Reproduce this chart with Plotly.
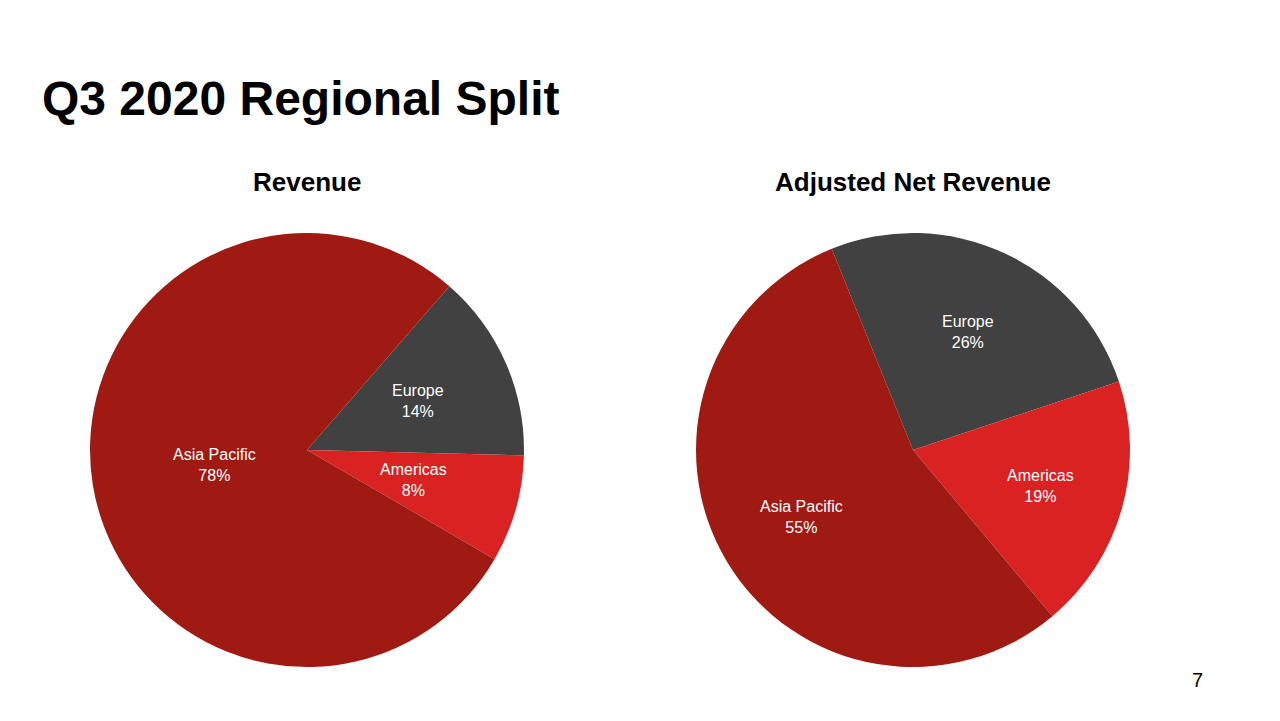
import math
import plotly.graph_objects as go

# Data
regions = ["Europe", "Americas", "Asia Pacific"]
revenue_pct = [14, 8, 78]
adj_net_revenue_pct = [26, 19, 55]
chart_titles = ["Revenue", "Adjusted Net Revenue"]
page_title = "Q3 2020 Regional Split"
page_number = "7"

colors = ["#414141", "#DA2222", "#A01A14"]

W, H = 1280, 721
R = 217
centers = [(307, 450), (913, 450)]
rotations = [41, -22]
label_r = [[0.56, 0.51, 0.43], [0.60, 0.61, 0.60]]

fig = go.Figure()
annotations = []

for i, (vals, title) in enumerate(zip([revenue_pct, adj_net_revenue_pct], chart_titles)):
    cx, cy = centers[i]
    fig.add_trace(go.Pie(
        labels=regions,
        values=vals,
        sort=False,
        direction="clockwise",
        rotation=rotations[i],
        marker=dict(colors=colors, line=dict(width=0)),
        textinfo="none",
        hoverinfo="label+percent",
        showlegend=False,
        domain=dict(x=[(cx - R) / W, (cx + R) / W], y=[1 - (cy + R) / H, 1 - (cy - R) / H]),
    ))
    total = sum(vals)
    start = rotations[i]
    for j, (lab, v) in enumerate(zip(regions, vals)):
        span = v / total * 360
        mid = math.radians(start + span / 2)
        start += span
        rr = label_r[i][j] * R
        px = cx + rr * math.sin(mid)
        py = cy - rr * math.cos(mid)
        annotations.append(dict(
            x=px / W, y=1 - py / H, xref="paper", yref="paper",
            text=f"{lab}<br>{round(v / total * 100)}%",
            showarrow=False, xanchor="center", yanchor="middle",
            font=dict(family="Liberation Sans, Arial, sans-serif", size=16, color="white"),
        ))
    annotations.append(dict(
        x=cx / W, y=1 - 182 / H, xref="paper", yref="paper", text=f"<b>{title}</b>",
        showarrow=False, xanchor="center", yanchor="middle",
        font=dict(family="Liberation Sans, Arial, sans-serif", size=26, color="black"),
    ))

annotations.append(dict(
    x=40 / W, y=1 - 99 / H, xref="paper", yref="paper", text=f"<b>{page_title}</b>",
    showarrow=False, xanchor="left", yanchor="middle",
    font=dict(family="Liberation Sans, Arial, sans-serif", size=48, color="black"),
))
annotations.append(dict(
    x=1197 / W, y=1 - 680 / H, xref="paper", yref="paper", text=page_number,
    showarrow=False, xanchor="center", yanchor="middle",
    font=dict(family="Liberation Sans, Arial, sans-serif", size=20, color="black"),
))

fig.update_layout(
    width=W, height=H,
    margin=dict(l=0, r=0, t=0, b=0),
    paper_bgcolor="white", plot_bgcolor="white",
    annotations=annotations,
)

fig.write_html("out.html")
